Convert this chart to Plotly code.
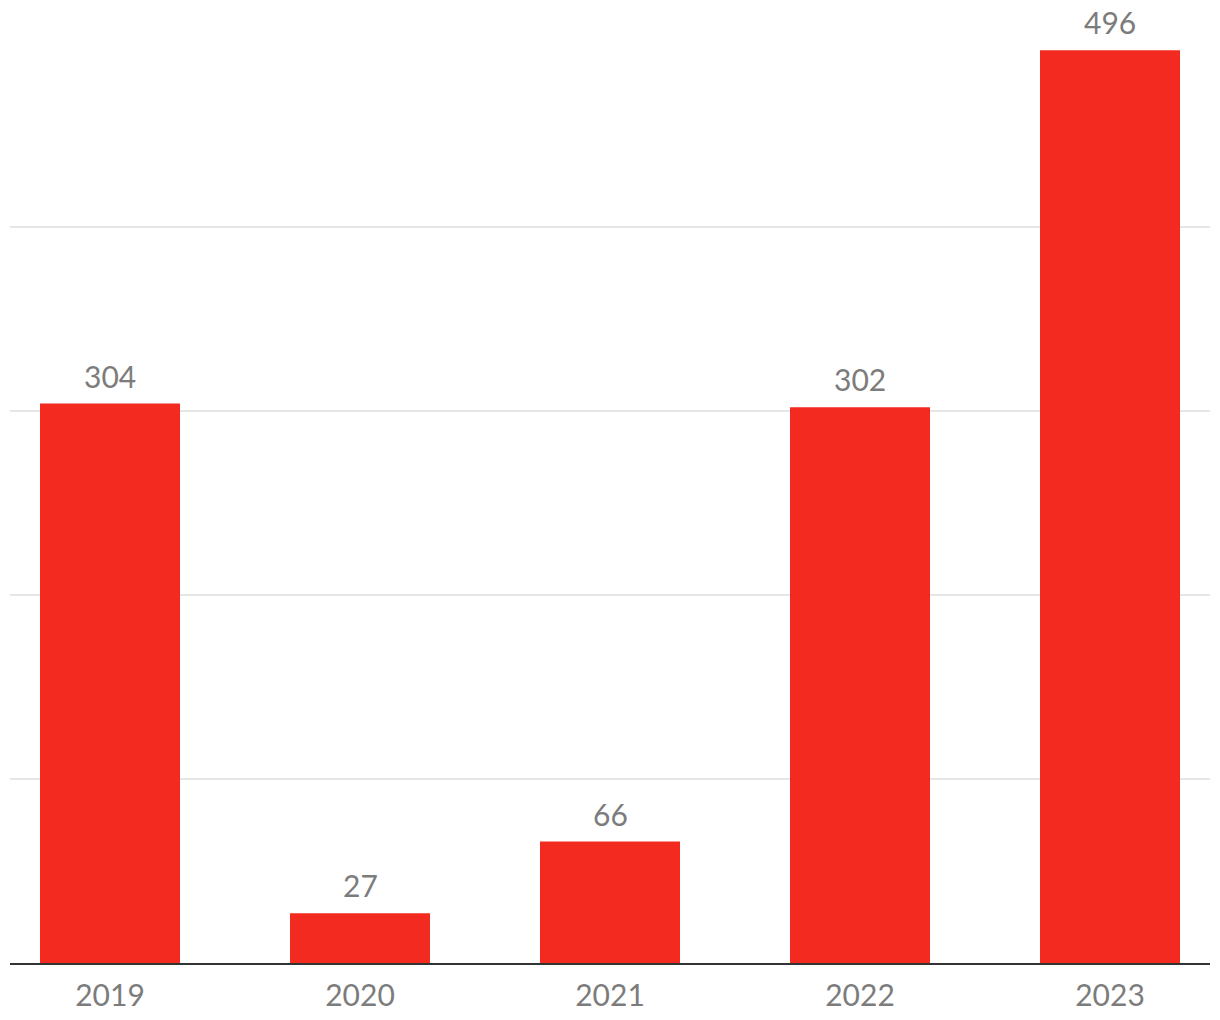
import plotly.graph_objects as go

years = ["2019", "2020", "2021", "2022", "2023"]
values = [304, 27, 66, 302, 496]
grid_vals = [100, 200, 300, 400]

fig = go.Figure()
fig.add_trace(go.Bar(
    x=list(range(len(years))), y=values,
    width=0.56,
    marker=dict(color="#f22a20", line=dict(width=0)),
    cliponaxis=False,
    hoverinfo="skip",
))
for i, v in enumerate(values):
    fig.add_annotation(
        x=i, y=v, text=str(v), showarrow=False,
        xanchor="center", yanchor="bottom", yshift=8,
        font=dict(family="Lato", size=30, color="#7c7c7c"),
    )
fig.update_layout(
    width=1220, height=1020,
    margin=dict(l=10, r=10, t=8, b=57),
    plot_bgcolor="white", paper_bgcolor="white",
    showlegend=False,
    font=dict(family="Lato", size=30, color="#7c7c7c"),
)
fig.update_xaxes(
    range=[-0.4, 4.4],
    tickvals=list(range(len(years))), ticktext=years,
    showgrid=False, zeroline=False,
    showline=True, linecolor="#333333", linewidth=2,
    ticks="outside", ticklen=5, tickcolor="rgba(0,0,0,0)",
    tickfont=dict(family="Lato", size=30, color="#7c7c7c"),
)
fig.update_yaxes(
    range=[0, 519],
    tickvals=grid_vals, showticklabels=False,
    showgrid=True, gridcolor="#e6e6e6", gridwidth=2,
    zeroline=False,
)
fig.write_html(
    "out.html",
    config={"displayModeBar": False, "staticPlot": True},
    post_script="document.body.style.margin='0';document.body.style.overflow='hidden';",
)
